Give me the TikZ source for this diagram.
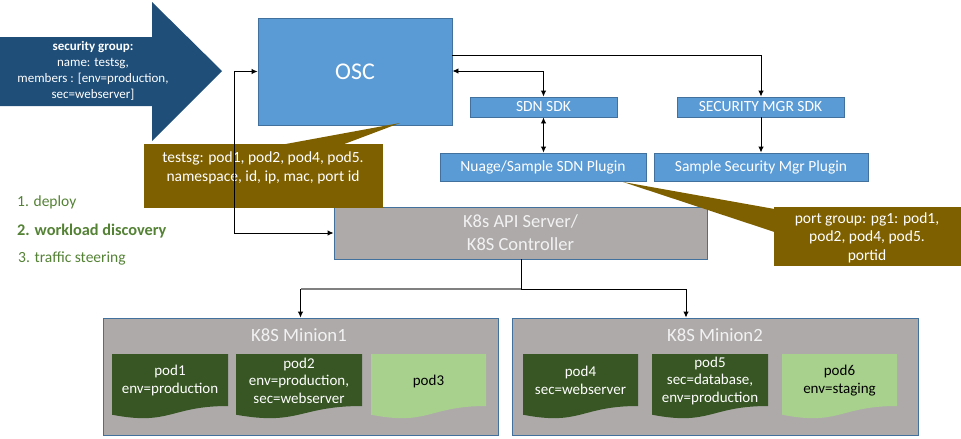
\documentclass[tikz,border=0pt]{standalone}
\usepackage{fontspec}
\setmainfont{Carlito}
\usetikzlibrary{arrows.meta}
\definecolor{boxblue}{HTML}{5B9BD5}
\definecolor{edgeblue}{HTML}{41719C}
\definecolor{navyarrow}{HTML}{1F4E79}
\definecolor{calloutbrown}{HTML}{7F6000}
\definecolor{k8grey}{HTML}{AEAAAA}
\definecolor{darkpod}{HTML}{375623}
\definecolor{lightpod}{HTML}{A9D18E}
\definecolor{labelgreen}{HTML}{548235}
\definecolor{softwhite}{HTML}{F2F2F2}
\definecolor{linegrey}{HTML}{808080}
\newcommand{\podshape}[3]{\fill[#3] (#1,354) -- (#2,354) -- (#2,406) .. controls ({(#1+#2)/2},406) and ({(#1+#2)/2},426) .. (#1,414.7) -- cycle;}
\begin{document}
\begin{tikzpicture}[x=1pt,y=-1pt,
  bluebox/.style={draw=edgeblue, line width=0.9pt, fill=boxblue, text=white, inner sep=0pt, font=\fontsize{15.5}{18.5}\selectfont},
  greybox/.style={draw=edgeblue, line width=0.9pt, fill=k8grey, inner sep=0pt},
  conn/.style={line width=0.9pt, -{Latex[length=6pt,width=5.5pt]}},
  dconn/.style={line width=0.9pt, {Latex[length=6pt,width=5.5pt]}-{Latex[length=6pt,width=5.5pt]}},
  plainline/.style={line width=0.9pt},
  notetext/.style={text=white, align=center, inner sep=0pt, font=\fontsize{15.5}{18.5}\selectfont},
  podtext/.style={align=center, inner sep=0pt, font=\fontsize{15}{17.5}\selectfont},
  steplabel/.style={anchor=west, inner sep=0pt, text=labelgreen, font=\fontsize{15.5}{18.5}\selectfont},
]
\useasboundingbox (0,0) rectangle (961,439);

% big arrow
\fill[navyarrow] (0,37) -- (152,37) -- (152,2) -- (222,71) -- (152,141) -- (152,106) -- (0,106) -- cycle;
\node[text=white, align=center, inner sep=0pt, font=\fontsize{13}{16}\selectfont] (sgdef) at (93,71)
  {\bfseries security group:\\name: testsg,\\members : [env=production,\\sec=webserver]};

% boxes
\node[bluebox, minimum width=194pt, minimum height=107pt, font=\fontsize{24}{28}\selectfont] (osc) at (355,71.5) {OSC};
\node[bluebox, minimum width=147pt, minimum height=20pt] (sdnsdk) at (543.5,107) {SDN SDK};
\node[bluebox, minimum width=167pt, minimum height=20pt] (secsdk) at (760.5,107) {SECURITY MGR SDK};
\node[bluebox, minimum width=206pt, minimum height=28pt] (nuage) at (543,167) {Nuage/Sample SDN Plugin};
\node[bluebox, minimum width=214pt, minimum height=28pt] (secplug) at (761,167) {Sample Security Mgr Plugin};
\node[greybox, minimum width=373pt, minimum height=52pt, text=softwhite, align=center, font=\fontsize{18.5}{23}\selectfont] (api) at (520.5,233) {K8s API Server/\\K8S Controller};

% callouts
\fill[calloutbrown] (144,144) rectangle (383,208);
\fill[calloutbrown] (283,144.5) -- (400,123) -- (343,144.5) -- cycle;
\node[notetext, font=\fontsize{15.5}{19}\selectfont] (sgnote) at (263,167.5) {testsg: pod1, pod2, pod4, pod5.\\namespace, id, ip, mac, port id};
\fill[calloutbrown] (774,207) rectangle (961,266);
\fill[calloutbrown] (623,182) -- (774.5,209) -- (774.5,232) -- cycle;
\node[notetext] (pgnote) at (867,237.5) {port group: pg1: pod1,\\pod2, pod4, pod5.\\portid};

% step labels
\node[steplabel] (step1) at (17,202) {1. deploy};
\node[steplabel, font=\fontsize{16.3}{19}\selectfont\bfseries] (step2) at (17,231) {2. workload discovery};
\node[steplabel] (step3) at (18,258) {3. traffic steering};

% minions
\node[greybox, minimum width=395pt, minimum height=117pt] (minion1) at (300.5,376.5) {};
\node[greybox, minimum width=406pt, minimum height=117pt] (minion2) at (715,376.5) {};
\node[text=softwhite, inner sep=0pt, font=\fontsize{18.7}{22}\selectfont] (m1title) at (299,335) {K8S Minion1};
\node[text=softwhite, inner sep=0pt, font=\fontsize{18.7}{22}\selectfont] (m2title) at (715,335) {K8S Minion2};

% pods
\podshape{112}{228}{darkpod}
\podshape{236}{362}{darkpod}
\podshape{371}{486}{lightpod}
\podshape{523}{638}{darkpod}
\podshape{652}{768}{darkpod}
\podshape{782}{897}{lightpod}
\node[podtext, text=white] (pod1) at (170,380.5) {pod1\\env=production};
\node[podtext, text=white] (pod2) at (299,380.5) {pod2\\env=production,\\sec=webserver};
\node[podtext, text=black] (pod3) at (428.5,381) {pod3};
\node[podtext, text=white] (pod4) at (580.5,380.5) {pod4\\sec=webserver};
\node[podtext, text=white] (pod5) at (710,380.5) {pod5\\sec=database,\\env=production};
\node[podtext, text=black] (pod6) at (839.5,380.5) {pod6\\env=staging};

% connectors
\coordinate (c1) at (761,55);
\coordinate (c2) at (543.5,71);
\coordinate (loopTop) at (234,71.5);
\coordinate (loopBot) at (234,233);
\coordinate (drop) at (521,289);
\coordinate (m1in) at (300.5,289);
\coordinate (m2in) at (686,289);
\draw[conn] (osc.east |- c1) -- (c1) -- (c1 |- secsdk.north);
\draw[dconn] (osc.east |- c2) -- (c2) -- (c2 |- sdnsdk.north);
\draw[dconn] (sdnsdk.south) -- (sdnsdk.south |- nuage.north);
\draw[conn] (c1 |- secsdk.south) -- (c1 |- secplug.north);
\draw[dconn] (osc.west) -- (loopTop) -- (loopBot) -- (api.west);
\draw[plainline] (api.south -| drop) -- (drop);
\draw[plainline, draw=linegrey, line width=1.3pt] (drop) -- (m1in);
\draw[conn] (m1in) -- (minion1.north);
\draw[conn] (drop) -- (m2in) -- (m2in |- minion2.north);
\end{tikzpicture}
\end{document}
